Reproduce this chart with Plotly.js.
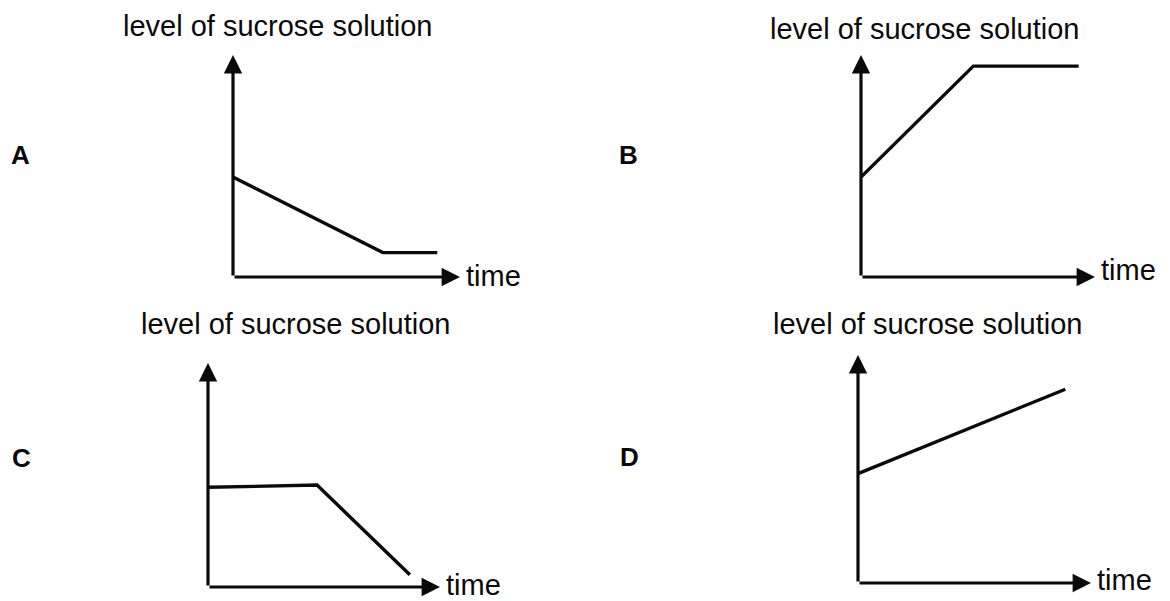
<!DOCTYPE html>
<html>
<head>
<meta charset="utf-8">
<script src="https://cdn.plot.ly/plotly-3.0.1.min.js"></script>
<style>
  html, body { margin: 0; padding: 0; background: #ffffff; }
  #chart { width: 1170px; height: 601px; }
</style>
</head>
<body>
<div id="chart"></div>
<script>
// ---- data (arbitrary units 0-10 on each axis) ----
const panelLabels = ['A', 'B', 'C', 'D'];
const yAxisTitle = 'level of sucrose solution';
const xAxisTitle = 'time';

const timeA  = [0, 6.6, 9.0];
const levelA = [4.5, 1.1, 1.1];

const timeB  = [0, 4.8, 9.3];
const levelB = [4.5, 9.5, 9.5];

const timeC  = [0, 4.7, 8.7];
const levelC = [4.45, 4.55, 0.55];

const timeD  = [0, 8.9];
const levelD = [4.8, 8.5];

// ---- layout geometry (pixels in a 1170 x 601 figure) ----
const W = 1170, H = 601;
// [x0 (y-axis), x1 (x-arrow tip), yBottom (x-axis), yTop (y-arrow tip)]
const boxes = [
  [233, 460, 277, 55],
  [861, 1095, 277, 55],
  [208, 440, 587, 363],
  [858, 1091, 583, 355]
];
const labelPos = [[20, 155], [628, 155], [21, 458], [629, 457]];
const titlePos = [[278, 26], [925, 29], [296, 324], [928, 324]];
const timeShift = [1, 7, 2, 3];

const series = [[timeA, levelA], [timeB, levelB], [timeC, levelC], [timeD, levelD]];
const font = 'Liberation Sans, Arial, sans-serif';
const ink = '#0a0a0a';

const traces = [];
const layout = {
  width: W, height: H,
  margin: {l: 0, r: 0, t: 0, b: 0},
  paper_bgcolor: '#ffffff', plot_bgcolor: 'rgba(0,0,0,0)',
  showlegend: false,
  annotations: []
};

series.forEach((s, i) => {
  const n = i + 1;
  const xa = 'xaxis' + (n === 1 ? '' : n);
  const ya = 'yaxis' + (n === 1 ? '' : n);
  const xr = 'x' + (n === 1 ? '' : n);
  const yr = 'y' + (n === 1 ? '' : n);
  const b = boxes[i];
  layout[xa] = {domain: [b[0] / W, b[1] / W], range: [0, 10], visible: false, fixedrange: true, anchor: yr};
  layout[ya] = {domain: [1 - b[2] / H, 1 - b[3] / H], range: [0, 10], visible: false, fixedrange: true, anchor: xr};

  traces.push({
    type: 'scatter', mode: 'lines', x: s[0], y: s[1],
    xaxis: xr, yaxis: yr,
    line: {color: ink, width: 3.4},
    hoverinfo: 'skip'
  });

  // axis arrows
  layout.annotations.push({
    xref: xr, yref: yr, axref: xr, ayref: yr,
    x: 10, y: 0, ax: 0, ay: 0, text: '',
    showarrow: true, arrowhead: 2, arrowsize: 1.15, arrowwidth: 3.2, arrowcolor: ink, standoff: 0, startstandoff: 0
  });
  layout.annotations.push({
    xref: xr, yref: yr, axref: xr, ayref: yr,
    x: 0, y: 10, ax: 0, ay: 0, text: '',
    showarrow: true, arrowhead: 2, arrowsize: 1.15, arrowwidth: 3.2, arrowcolor: ink, standoff: 0, startstandoff: 0
  });
  // x-axis title
  layout.annotations.push({
    xref: xr, yref: yr, x: 10, y: 0, xanchor: 'left', yanchor: 'middle',
    xshift: 4, yshift: timeShift[i], showarrow: false,
    text: xAxisTitle, font: {family: font, size: 29, color: ink}
  });
  // y-axis title
  layout.annotations.push({
    xref: 'paper', yref: 'paper', x: titlePos[i][0] / W, y: 1 - titlePos[i][1] / H,
    xanchor: 'center', yanchor: 'middle', showarrow: false,
    text: yAxisTitle, font: {family: font, size: 29, color: ink}
  });
  // panel letter
  layout.annotations.push({
    xref: 'paper', yref: 'paper', x: labelPos[i][0] / W, y: 1 - labelPos[i][1] / H,
    xanchor: 'center', yanchor: 'middle', showarrow: false,
    text: '<b>' + panelLabels[i] + '</b>', font: {family: font, size: 26, color: ink}
  });
});

Plotly.newPlot('chart', traces, layout, {staticPlot: true, displayModeBar: false});
</script>
</body>
</html>
